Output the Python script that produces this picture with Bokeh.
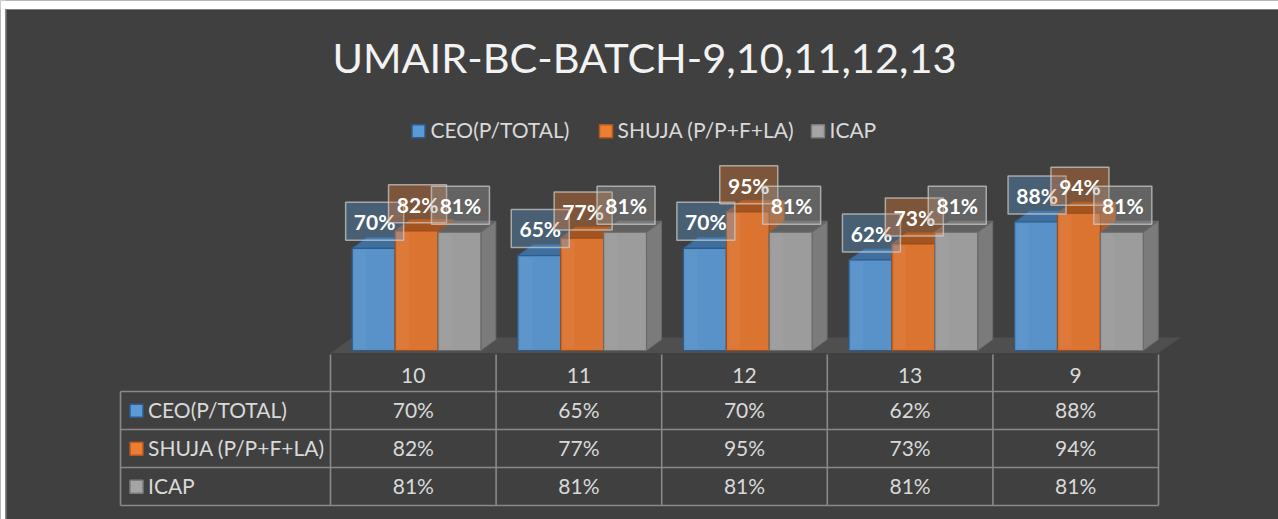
from bokeh.plotting import figure
from bokeh.models import Range1d
from bokeh.core.properties import value
from bokeh.embed import file_html
from bokeh.resources import INLINE

# ---------------- data ----------------
chart_title = "UMAIR-BC-BATCH-9,10,11,12,13"
batches = ["10", "11", "12", "13", "9"]
series_names = ["CEO(P/TOTAL)", "SHUJA (P/P+F+LA)", "ICAP"]
ceo_pct = [70, 65, 70, 62, 88]
shuja_pct = [82, 77, 95, 73, 94]
icap_pct = [81, 81, 81, 81, 81]
series_values = [ceo_pct, shuja_pct, icap_pct]

# ---------------- styles ----------------
BG = "#404040"
base_colors = ["#5b9bd5", "#ed7d31", "#a5a5a5"]
front_colors = ["#5892c9", "#dc7431", "#9c9c9c"]
top_colors = ["#3f6f9f", "#a4541f", "#606060"]
side_colors = ["#44739f", "#b05a23", "#7b7b7b"]
edge_colors = ["#2e5c8a", "#9c4c1b", "#6a6a6a"]
key_edges = ["#2f5c8f", "#ae5a21", "#7c7c7c"]
TEXT = "#d9d9d9"
GRID = "#898989"
FONT = value("Lato")
BASE_SHIFT = 0.41   # em, correction of rendered baseline

W, H = 1278, 519
PAGE_X0, PAGE_Y0 = 0, 0
CAT_X0, CAT_W = 330.0, 165.6     # page x of first category edge, category width (px)
BASE_Y, PX = 350.0, 1.46         # page y of 0 %, pixels per percent


def xd(px):
    return (px - CAT_X0) / CAT_W


def yd(py):
    return (BASE_Y - py) / PX


def yt(py, fs):
    """data y for a text whose baseline should sit at page y `py` (font size fs px)"""
    return yd(py - BASE_SHIFT * fs)


p = figure(width=W, height=H, output_backend="svg", toolbar_location=None,
           x_range=Range1d(xd(PAGE_X0), xd(PAGE_X0 + W)),
           y_range=Range1d(yd(PAGE_Y0 + H), yd(PAGE_Y0)),
           x_axis_location=None, y_axis_location=None,
           min_border=0, background_fill_color=BG, border_fill_color=BG,
           outline_line_color=None)
p.grid.visible = False

n = len(batches)

# white margin strips and chart-area border (top and left)
p.quad(left=[xd(0), xd(0)], right=[xd(W), xd(5)], bottom=[yd(8.5), yd(H)], top=[yd(0), yd(0)],
       fill_color="#ffffff", line_color=None)
p.segment(x0=[xd(5), xd(5.5)], x1=[xd(W), xd(5.5)], y0=[yd(9), yd(9)], y1=[yd(9), yd(H)],
          line_color="#7f7f7f", line_width=1.2)

# ---------------- 3D floor ----------------
yf = yd(352.5)
fdx, fdy = 22 / CAT_W, 15.5 / PX
p.patch([0, n, n + fdx, fdx], [yf, yf, yf + fdy, yf + fdy],
        fill_color="#4f4f4f", line_color=None)

# ---------------- 3D bars ----------------
BAR_OFF, BAR_W = 21.7 / CAT_W, 42.9 / CAT_W
bdx, bdy = 15 / CAT_W, 11 / PX
LBL_FS = 21

side_xs, side_ys, side_c, side_e = [], [], [], []
top_xs, top_ys, top_c, top_e = [], [], [], []
fl, fr, ft, fc, fe = [], [], [], [], []
hl_l, hl_r, hl_t = [], [], []
lab = {s: ([], [], [], []) for s in range(3)}
for i in range(n):
    for s, vals in enumerate(series_values):
        v = vals[i]
        l = i + BAR_OFF + s * BAR_W
        r = l + BAR_W
        side_xs.append([r, r, r + bdx, r + bdx])
        side_ys.append([0, v, v + bdy, bdy])
        side_c.append(side_colors[s]); side_e.append(edge_colors[s])
        top_xs.append([l, r, r + bdx, l + bdx])
        top_ys.append([v, v, v + bdy, v + bdy])
        top_c.append(top_colors[s]); top_e.append(edge_colors[s])
        fl.append(l); fr.append(r); ft.append(v)
        fc.append(front_colors[s]); fe.append(edge_colors[s])
        hl_l.append(l + 2 / CAT_W); hl_r.append(l + 14 / CAT_W); hl_t.append(v - 2 / PX)
        cx = (l + r) / 2 + 1 / CAT_W
        lab[s][0].append(cx)
        lab[s][1].append(v + 27 / PX)
        lab[s][2].append(v + (18 + BASE_SHIFT * LBL_FS) / PX)
        lab[s][3].append(f"{v}%")

p.patches(xs=side_xs, ys=side_ys, fill_color=side_c, line_color=side_e, line_width=1)
p.patches(xs=top_xs, ys=top_ys, fill_color=top_c, line_color=top_e, line_width=1)
p.quad(left=fl, right=fr, bottom=[0] * len(fl), top=ft,
       fill_color=fc, line_color=fe, line_width=1.2)
# faint lighter strip on the front faces (lighting)
p.quad(left=hl_l, right=hl_r, bottom=[2 / PX] * len(hl_l), top=hl_t,
       fill_color="#ffffff", fill_alpha=0.04, line_color=None)

# ---------------- data labels ----------------
for s in range(3):
    xs_, yb, ytx, tx = lab[s]
    p.rect(x=xs_, y=yb, width=58, height=38, width_units="screen", height_units="screen",
           fill_color=base_colors[s], fill_alpha=0.35,
           line_color="#cfcfcf", line_alpha=0.7, line_width=1.5)
    p.text(x=xs_, y=ytx, text=tx, text_align="center", text_baseline="alphabetic",
           text_font=FONT, text_font_style="bold", text_font_size=f"{LBL_FS}px",
           text_color="#ffffff")

# ---------------- data table ----------------
FS = 21
TBL_LEFT = xd(120)
row_lines = [391, 429, 467, 505]
p.segment(x0=[TBL_LEFT] * len(row_lines), x1=[n] * len(row_lines),
          y0=[yd(v) for v in row_lines], y1=[yd(v) for v in row_lines],
          line_color=GRID, line_width=1.6)
vx = [TBL_LEFT] + list(range(n + 1))
vy0 = [yd(391)] + [yd(354)] * (n + 1)
p.segment(x0=vx, x1=vx, y0=vy0, y1=[yd(505)] * len(vx),
          line_color=GRID, line_width=1.6)

p.text(x=[i + 0.5 for i in range(n)], y=[yt(383.5, FS)] * n, text=batches,
       text_align="center", text_baseline="alphabetic", text_font=FONT,
       text_font_size=f"{FS}px", text_color=TEXT)
for r, vals in enumerate(series_values):
    p.text(x=[i + 0.5 for i in range(n)], y=[yt(417.5 + 38 * r, FS)] * n,
           text=[f"{v}%" for v in vals], text_align="center", text_baseline="alphabetic",
           text_font=FONT, text_font_size=f"{FS}px", text_color=TEXT)

p.rect(x=[xd(136)] * 3, y=[yd(410.3 + 38 * r) for r in range(3)], width=13, height=13,
       width_units="screen", height_units="screen",
       fill_color=base_colors, line_color=key_edges, line_width=1.5)
p.text(x=[xd(147.5)] * 3, y=[yt(417.5 + 38 * r, FS) for r in range(3)], text=series_names,
       text_align="left", text_baseline="alphabetic", text_font=FONT,
       text_font_size=f"{FS}px", text_color=TEXT)

# ---------------- legend ----------------
leg_key_x = [418, 605.5, 817.5]
leg_txt_x = [430, 617, 829]
p.rect(x=[xd(v) for v in leg_key_x], y=[yd(130.7)] * 3, width=13, height=13,
       width_units="screen", height_units="screen",
       fill_color=base_colors, line_color=key_edges, line_width=1.5)
p.text(x=[xd(v) for v in leg_txt_x], y=[yt(137.3, FS)] * 3, text=series_names,
       text_align="left", text_baseline="alphabetic", text_font=FONT,
       text_font_size=f"{FS}px", text_color=TEXT)

# ---------------- title ----------------
TFS = 41.5
p.text(x=[xd(644)], y=[yt(74, TFS)], text=[chart_title], text_align="center",
       text_baseline="alphabetic", text_font=FONT, text_font_size=f"{TFS}px",
       text_color="#f2f2f2")

open("out.html", "w").write(file_html(p, INLINE))
